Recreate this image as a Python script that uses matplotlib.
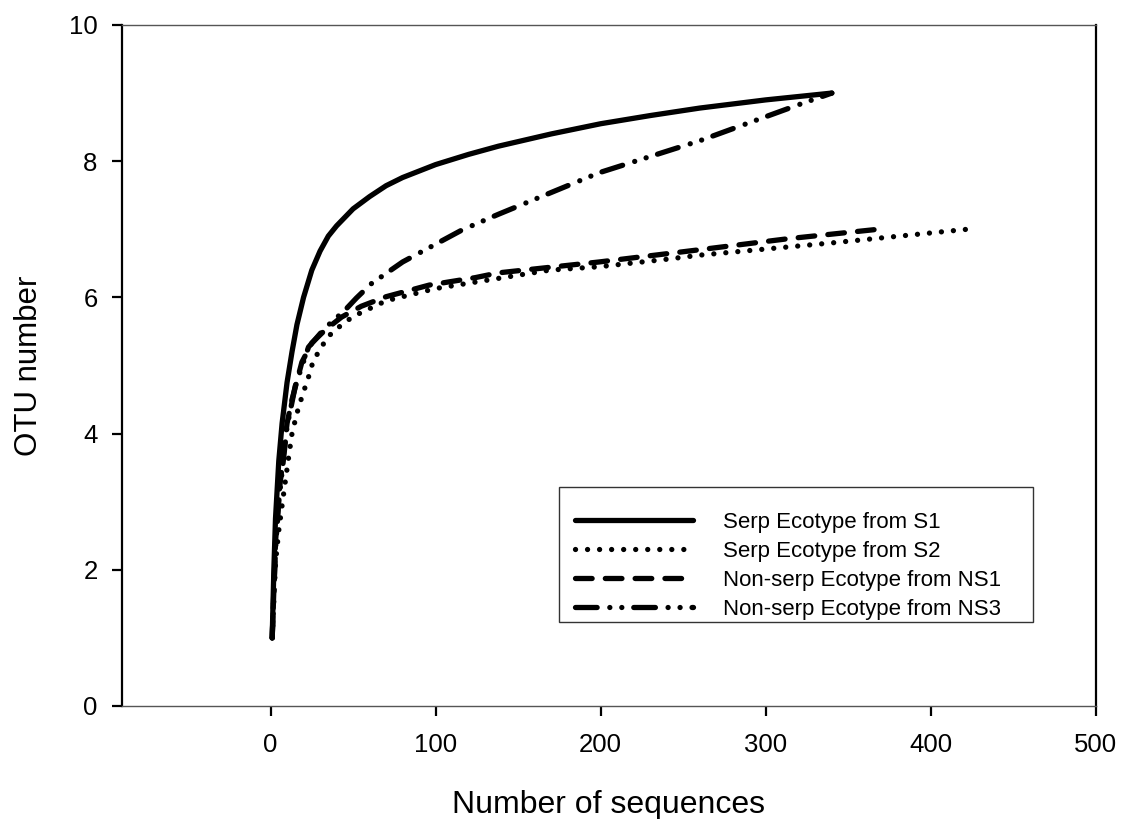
import matplotlib
matplotlib.use('Agg')
import matplotlib.pyplot as plt
from matplotlib.patches import Rectangle

plt.rcParams['font.family'] = ['Liberation Sans', 'DejaVu Sans']

# rarefaction curves: number of sequences vs OTU number
x_s1 = [1, 2, 3, 5, 7, 10, 13, 16, 20, 25, 30, 35, 40, 50, 60, 70, 80, 100, 120, 138,
        170, 200, 230, 260, 300, 340]
y_s1 = [1.0, 2.0, 2.75, 3.6, 4.15, 4.75, 5.2, 5.6, 6.0, 6.4, 6.68, 6.9, 7.05, 7.3, 7.48,
        7.64, 7.76, 7.95, 8.1, 8.22, 8.4, 8.55, 8.67, 8.78, 8.9, 9.0]

x_s2 = [1, 3, 5, 8, 11, 13, 16, 19, 23, 26, 30, 34, 39, 50, 70, 100, 169, 199, 240, 260, 340, 422]
y_s2 = [1.0, 2.1, 2.58, 3.13, 3.66, 4.0, 4.3, 4.54, 4.83, 5.08, 5.23, 5.4, 5.52, 5.72,
        5.95, 6.13, 6.4, 6.45, 6.56, 6.62, 6.8, 7.0]

x_ns1 = [1, 3, 5, 10, 13, 19, 25, 33, 43, 55, 70, 96, 124, 138, 199, 260, 313, 368]
y_ns1 = [1.0, 2.4, 3.1, 4.15, 4.5, 5.05, 5.33, 5.52, 5.71, 5.87, 6.01, 6.18, 6.29, 6.36,
         6.52, 6.7, 6.86, 7.0]

x_ns3 = [1, 3, 5, 10, 15, 23, 33, 45, 52, 61, 80, 116, 138, 199, 260, 320, 340]
y_ns3 = [1.0, 2.3, 3.0, 4.1, 4.7, 5.27, 5.55, 5.81, 5.99, 6.2, 6.52, 6.99, 7.22, 7.83,
         8.3, 8.83, 9.0]

labels = ['Serp Ecotype from S1', 'Serp Ecotype from S2',
          'Non-serp Ecotype from NS1', 'Non-serp Ecotype from NS3']

fig = plt.figure(figsize=(11.22, 8.19), dpi=100)
ax = fig.add_axes([0.1087, 0.138, 0.8681, 0.8315])

lw = 3.8
ax.plot(x_s1, y_s1, color='black', lw=lw, solid_capstyle='round',
        solid_joinstyle='round', label=labels[0])
ax.plot(x_s2, y_s2, color='black', lw=lw, linestyle=(0, (0.01, 2.27)),
        dash_capstyle='round', label=labels[1])
ax.plot(x_ns1, y_ns1, color='black', lw=lw, linestyle=(0, (3.15, 2.5)),
        dash_capstyle='round', label=labels[2])
ax.plot(x_ns3, y_ns3, color='black', lw=lw,
        linestyle=(0, (4.1, 2.4, 0.01, 2.26, 0.01, 2.26)),
        dash_capstyle='round', label=labels[3])

ax.set_xlim(-90, 500)
ax.set_ylim(0, 10)
ax.set_xticks([0, 100, 200, 300, 400, 500])
ax.set_yticks([0, 2, 4, 6, 8, 10])

for side in ['left', 'right']:
    ax.spines[side].set_linewidth(1.6)
    ax.spines[side].set_color('black')
for side in ['top', 'bottom']:
    ax.spines[side].set_linewidth(1.0)
    ax.spines[side].set_color('#555555')

ax.tick_params(direction='out', length=7.5, width=1.6, labelsize=18.5)
ax.tick_params(axis='x', pad=12)
ax.tick_params(axis='y', pad=10)

ax.set_xlabel('Number of sequences', fontsize=23, labelpad=24)
ax.set_ylabel('OTU number', fontsize=22.5, labelpad=18)

# legend frame drawn separately, entries placed inside it without their own frame
box = Rectangle((0.4487, 0.1233), 0.4867, 0.198, transform=ax.transAxes,
                facecolor='white', edgecolor='#333333', lw=1.0, zorder=4)
ax.add_patch(box)
leg = ax.legend(loc='upper left', bbox_to_anchor=(0.4651, 0.2855),
                borderaxespad=0, borderpad=0, fontsize=16, frameon=False,
                handlelength=5.3, handletextpad=1.35, labelspacing=0.36)
leg.set_zorder(5)

fig.savefig('out.png', dpi=100)
